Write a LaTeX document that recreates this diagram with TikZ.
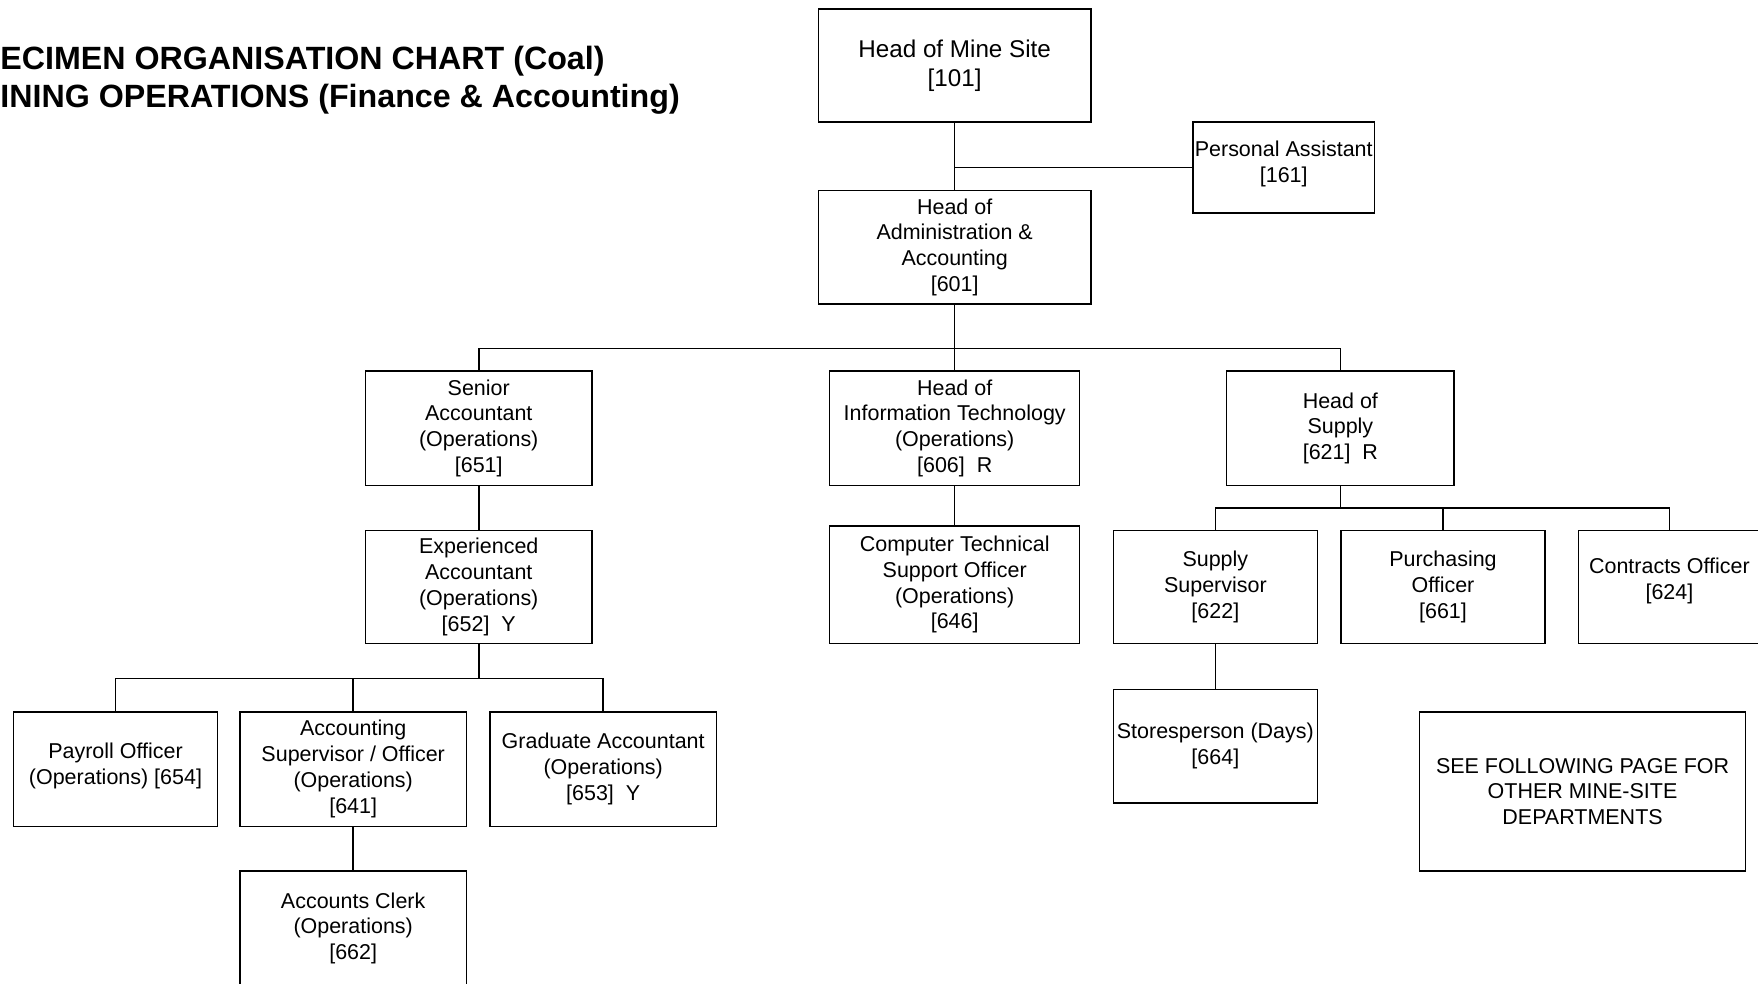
\documentclass[tikz,border=0pt]{standalone}
\usepackage{fontspec}
\setmainfont{Liberation Sans}
\begin{document}
\begin{tikzpicture}[x=0.02cm,y=-0.02cm,
  txt/.style={align=center,inner sep=1pt,font=\fontsize{10.9}{13.1}\selectfont},
  box/.style 2 args={draw,line width=0.8pt,rectangle,txt,
    minimum width=#1*0.02cm,minimum height=#2*0.02cm},
  conn/.style={line width=0.8pt},
  ttl/.style={anchor=base west,inner sep=0pt,font=\fontsize{16.35}{19.3}\selectfont\bfseries}]
\useasboundingbox (0,0) rectangle (1568,877);
\node[ttl] (t1) at (0,62) {ECIMEN ORGANISATION CHART (Coal)};
\node[ttl] (t2) at (0,96) {INING OPERATIONS (Finance \& Accounting)};

\node[box={243}{101},font=\fontsize{12.3}{14.8}\selectfont] (mine) at (851.5,58.5) {Head of Mine Site\\{[}101{]}};
\node[box={162}{81}] (pa) at (1145,149.5) {};
\node[txt] (patext) at (1145,146) {Personal Assistant\\{[}161{]}};
\node[box={243}{101}] (admin) at (851.5,220.5) {Head of\\Administration \&\\Accounting\\{[}601{]}};
\node[box={202}{102}] (senior) at (427,382) {Senior\\Accountant\\(Operations)\\{[}651{]}};
\node[box={223}{102}] (it) at (851.5,382) {Head of\\Information Technology\\(Operations)\\{[}606{]}\ \ R};
\node[box={203}{102}] (supply) at (1195.5,382) {Head of\\Supply\\{[}621{]}\ \ R};
\node[box={202}{101}] (exp) at (427,523.5) {Experienced\\Accountant\\(Operations)\\{[}652{]}\ \ Y};
\node[box={223}{105}] (cts) at (851.5,521.5) {Computer Technical\\Support Officer\\(Operations)\\{[}646{]}};
\node[box={182}{101}] (supsup) at (1084,523.5) {Supply\\Supervisor\\{[}622{]}};
\node[box={182}{101}] (purch) at (1287,523.5) {Purchasing\\Officer\\{[}661{]}};
\node[box={162}{101}] (contr) at (1489,523.5) {};
\node[txt] (contrtext) at (1489,518.5) {Contracts Officer\\{[}624{]}};
\node[box={182}{101}] (store) at (1084,665.5) {Storesperson (Days)\\{[}664{]}};
\node[box={291}{142}] (see) at (1411.5,706) {SEE FOLLOWING PAGE FOR\\OTHER MINE-SITE\\DEPARTMENTS};
\node[box={182}{102}] (payroll) at (103,686) {};
\node[txt] (payrolltext) at (103,683) {Payroll Officer\\(Operations) {[}654{]}};
\node[box={202}{102}] (accsup) at (315,686) {Accounting\\Supervisor / Officer\\(Operations)\\{[}641{]}};
\node[box={202}{102}] (grad) at (538,686) {Graduate Accountant\\(Operations)\\{[}653{]}\ \ Y};
\node[box={202}{102}] (clerk) at (315,828) {Accounts Clerk\\(Operations)\\{[}662{]}};

\coordinate (bus1) at (0,311);
\coordinate (bus2) at (0,453);
\coordinate (bus3) at (0,605);

\draw[conn] (mine.south) -- (admin.north);
\draw[conn] (pa.west) -- (pa.west -| mine.south);
\draw[conn] (admin.south) -- (it.north);
\draw[conn] (senior.north) -- (senior.north |- bus1) -- (supply.north |- bus1) -- (supply.north);
\draw[conn] (senior.south) -- (exp.north);
\draw[conn] (exp.south) -- (exp.south |- bus3);
\draw[conn] (payroll.north) -- (payroll.north |- bus3) -- (grad.north |- bus3) -- (grad.north);
\draw[conn] (accsup.north) -- (accsup.north |- bus3);
\draw[conn] (accsup.south) -- (clerk.north);
\draw[conn] (it.south) -- (cts.north);
\draw[conn] (supply.south) -- (supply.south |- bus2);
\draw[conn] (supsup.north) -- (supsup.north |- bus2) -- (contr.north |- bus2) -- (contr.north);
\draw[conn] (purch.north) -- (purch.north |- bus2);
\draw[conn] (supsup.south) -- (store.north);
\end{tikzpicture}
\end{document}
